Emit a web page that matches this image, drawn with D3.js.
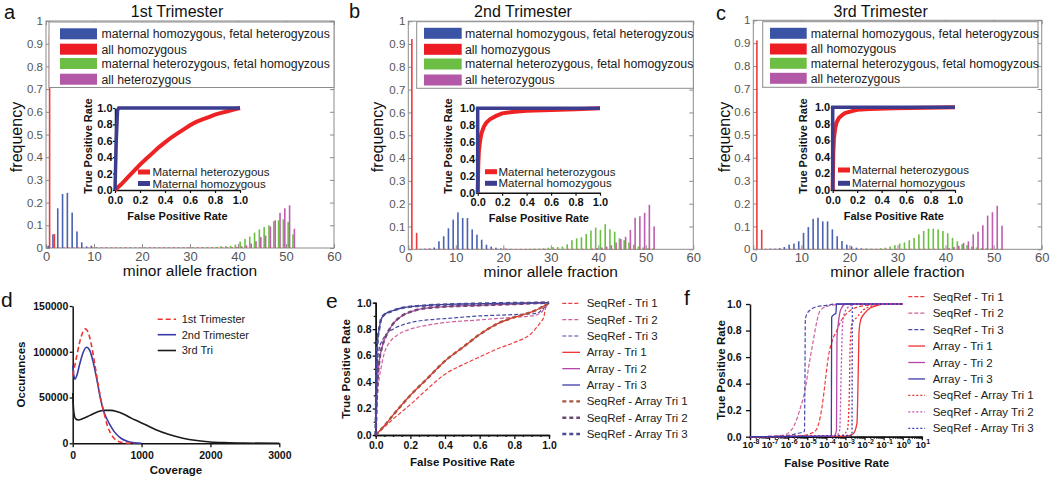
<!DOCTYPE html>
<html><head><meta charset="utf-8">
<script src="https://cdn.jsdelivr.net/npm/d3@7/dist/d3.min.js"></script>
<style>
html,body{margin:0;padding:0;background:#fff;}
svg{display:block;}
svg text{font-family:"Liberation Sans",Arial,Helvetica,sans-serif;}
</style></head><body>
<svg id="fig" width="1050" height="477"></svg>
<script>
// ---------------- DATA ----------------
const alleleBins = [0,1,2,3,4,5,6,7,8,9,10,11,12,13,14,15,16,17,18,19,20,21,22,23,24,25,26,27,28,29,30,31,32,33,34,35,36,37,38,39,40,41,42,43,44,45,46,47,48,49,50,51];
const freqTicks = [0,0.1,0.2,0.3,0.4,0.5,0.6,0.7,0.8,0.9,1];
const fractionTicks = [0,10,20,30,40,50,60];
const rocTicks = [0,0.2,0.4,0.6,0.8,1];
const trimesterTitles = ["1st Trimester","2nd Trimester","3rd Trimester"];
const genotypeLabels = ["maternal homozygous, fetal heterogyzous","all homozygous","maternal heterozygous, fetal homogyzous","all heterozygous"];
const insetLabels = ["Maternal heterozygous","Maternal homozygous"];

// panel a (1st trimester) frequencies per allele-fraction bin
const blueA = [0.010,0.060,0.175,0.238,0.243,0.156,0.073,0.025,0.007,0.010, 0.003,0.002,0.002,0.002,0.002,0.002,0.002,0.002,0.002,0.002, 0.002,0.002,0.002,0.002,0.002,0.002,0.002,0.002,0.002,0.002, 0.002,0.002,0.002,0.002,0.002,0.001,0.001,0.001,0.001,0.001, 0.001,0.001,0.001,0.001,0.001,0.001,0.001,0.001,0.001,0.001, 0.001,0.001];
const redA = [0.938,0.062,0.002,0.002,0.002,0.002,0.002,0.002,0.002,0.002, 0.002,0.002,0.002,0.002,0.002,0.002,0.002,0.002,0.002,0.002, 0.002,0.002,0.002,0.002,0.002,0.002,0.002,0.002,0.002,0.002, 0.002,0.002,0.002,0.002,0.002,0.002,0.002,0.002,0.002,0.002, 0.002,0.002,0.002,0.002,0.002,0.002,0.002,0.002,0.002,0.002, 0.002,0.002];
const greenA = [0,0,0,0,0,0,0,0,0,0, 0.001,0.001,0.001,0.001,0.001,0.001,0.001,0.001,0.001,0.001, 0.001,0.001,0.001,0.001,0.001,0.001,0.001,0.001,0.001,0.001, 0.002,0.002,0.003,0.003,0.003,0.005,0.008,0.008,0.010,0.015, 0.028,0.040,0.050,0.068,0.082,0.092,0.100,0.118,0.122,0.126, 0.115,0.060];
const magentaA = [0,0,0,0,0,0,0,0,0,0, 0,0,0,0,0,0,0,0,0,0, 0.001,0.001,0.001,0.001,0.001,0.001,0.001,0.001,0.001,0.001, 0.001,0.001,0.001,0.001,0.001,0.001,0.002,0.003,0.003,0.005, 0.008,0.012,0.020,0.030,0.048,0.055,0.095,0.122,0.155,0.175, 0.188,0.085];
// panel b (2nd trimester)
const blueB = [0,0,0.002,0.003,0.004,0.008,0.035,0.057,0.092,0.130, 0.162,0.137,0.137,0.087,0.064,0.042,0.020,0.012,0.007,0.004, 0.003,0.002,0.001,0.001,0.001,0.001,0.001,0.001,0.001,0.001, 0.001,0.001,0.001,0.001,0.001,0.001,0.001,0.001,0.001,0.001, 0.001,0.001,0.001,0.001,0.001,0.001,0.001,0.001,0.001,0.001, 0.001,0.001];
const redB = [0.922,0.072,0.002,0.002,0.002,0.002,0.002,0.002,0.002,0.002, 0.002,0.002,0.002,0.002,0.002,0.002,0.002,0.002,0.002,0.002, 0.002,0.002,0.002,0.002,0.002,0.002,0.002,0.002,0.002,0.002, 0.002,0.002,0.002,0.002,0.002,0.002,0.002,0.002,0.002,0.002, 0.002,0.002,0.002,0.002,0.002,0.002,0.002,0.002,0.002,0.002, 0.002,0.002];
const greenB = [0,0,0,0,0,0,0,0,0,0, 0.001,0.001,0.001,0.001,0.001,0.001,0.001,0.001,0.001,0.001, 0.001,0.001,0.001,0.001,0.001,0.002,0.003,0.003,0.005,0.007, 0.010,0.010,0.012,0.022,0.040,0.048,0.053,0.067,0.082,0.095, 0.085,0.110,0.088,0.077,0.048,0.040,0.030,0.020,0.012,0.008, 0.005,0.003];
const magentaB = [0,0,0,0,0,0,0,0,0,0, 0,0,0,0,0,0,0,0,0,0, 0.001,0.001,0.001,0.001,0.001,0.001,0.001,0.001,0.001,0.001, 0.001,0.001,0.001,0.001,0.001,0.001,0.001,0.001,0.003,0.005, 0.008,0.012,0.018,0.030,0.045,0.055,0.085,0.138,0.145,0.160, 0.195,0.100];
// panel c (3rd trimester)
const blueC = [0,0.001,0.002,0.003,0.003,0.005,0.010,0.020,0.025,0.035, 0.072,0.097,0.133,0.138,0.122,0.122,0.087,0.057,0.036,0.020, 0.013,0.007,0.004,0.003,0.002,0.001,0.001,0.001,0.001,0.001, 0.001,0.001,0.001,0.001,0.001,0.001,0.001,0.001,0.001,0.001, 0.001,0.001,0.001,0.001,0.001,0.001,0.001,0.001,0.001,0.001, 0.001,0.001];
const redC = [0.912,0.085,0.002,0.002,0.002,0.002,0.002,0.002,0.002,0.002, 0.002,0.002,0.002,0.002,0.002,0.002,0.002,0.002,0.002,0.002, 0.002,0.002,0.002,0.002,0.002,0.002,0.002,0.002,0.002,0.002, 0.002,0.002,0.002,0.002,0.002,0.002,0.002,0.002,0.002,0.002, 0.002,0.002,0.002,0.002,0.002,0.002,0.002,0.002,0.002,0.002, 0.002,0.002];
const greenC = [0,0,0,0,0,0,0,0,0,0, 0.001,0.001,0.001,0.001,0.001,0.001,0.001,0.001,0.001,0.001, 0.001,0.001,0.001,0.002,0.002,0.003,0.005,0.007,0.012,0.018, 0.025,0.030,0.040,0.050,0.065,0.080,0.090,0.090,0.087,0.080, 0.070,0.050,0.035,0.022,0.018,0.012,0.008,0.005,0.004,0.003, 0.002,0.002];
const magentaC = [0,0,0,0,0,0,0,0,0,0, 0,0,0,0,0,0,0,0,0,0, 0.001,0.001,0.001,0.001,0.001,0.001,0.001,0.001,0.001,0.001, 0.001,0.001,0.001,0.001,0.001,0.001,0.001,0.001,0.001,0.003, 0.005,0.010,0.015,0.028,0.035,0.065,0.077,0.105,0.147,0.162, 0.190,0.103];

// inset ROC curves [FPR, TPR]
const rocHetA = [[0,0],[0.05,0.07],[0.1,0.15],[0.15,0.23],[0.2,0.31],[0.25,0.38],[0.3,0.45],[0.35,0.52],[0.4,0.58],[0.45,0.64],[0.5,0.69],[0.55,0.74],[0.6,0.79],[0.65,0.83],[0.7,0.86],[0.75,0.89],[0.8,0.92],[0.85,0.94],[0.9,0.96],[0.95,0.98],[1,1]];
const rocHomA = [[0,0],[0.01,0.6],[0.02,0.97],[0.03,1],[1,1]];
const rocHetB = [[0,0],[0.005,0.35],[0.01,0.5],[0.02,0.62],[0.03,0.7],[0.05,0.78],[0.07,0.83],[0.1,0.87],[0.15,0.91],[0.2,0.94],[0.3,0.96],[0.4,0.97],[0.6,0.98],[0.8,0.99],[1,1]];
const rocHomB = [[0,0],[0,1],[1,1]];
const rocHetC = [[0,0],[0.005,0.45],[0.01,0.62],[0.02,0.74],[0.03,0.81],[0.05,0.87],[0.08,0.91],[0.1,0.93],[0.15,0.95],[0.2,0.97],[0.3,0.98],[0.5,0.99],[1,1]];
const rocHomC = [[0,0],[0,1],[1,1]];

// panel d: coverage distributions [coverage, occurances]
const coverageTicks = [0,1000,2000,3000];
const occTicks = [0,50000,100000,150000];
const coverageLabels = ["1st Trimester","2nd Trimester","3rd Tri"];
const cov1st = [[0,74000],[50,92000],[100,110000],[150,122000],[180,125000],[220,122000],[270,108000],[320,87000],[370,64000],[420,44000],[450,35000],[500,20000],[550,11000],[600,5500],[700,1200],[800,200],[900,0]];
const cov2nd = [[0,85000],[30,70000],[60,74000],[100,86000],[150,99000],[200,105000],[250,101000],[300,88000],[350,70000],[400,50000],[450,35000],[500,26000],[550,19000],[600,13000],[700,5500],[800,2000],[900,500],[1000,0]];
const cov3rd = [[0,55000],[15,35000],[40,27000],[80,25500],[150,27000],[250,30500],[350,34000],[450,36000],[550,36000],[650,34500],[750,31500],[850,27500],[950,24000],[1050,20500],[1200,15000],[1400,9500],[1600,5500],[1800,3000],[2000,1500],[2200,700],[2500,200],[3000,0]];

// panel e / f: ROC comparison
const rateTicks = [0,0.2,0.4,0.6,0.8,1];
const rocSeriesLabels = ["SeqRef - Tri 1","SeqRef - Tri 2","SeqRef - Tri 3","Array - Tri 1","Array - Tri 2","Array - Tri 3","SeqRef - Array Tri 1","SeqRef - Array Tri 2","SeqRef - Array Tri 3"];
const eSeqRef1 = [[0,0],[0.05,0.06],[0.1,0.12],[0.2,0.23],[0.3,0.35],[0.4,0.46],[0.5,0.53],[0.6,0.59],[0.7,0.65],[0.8,0.7],[0.9,0.77],[0.95,0.85],[0.97,0.89],[0.98,0.96],[1,1]];
const eSeqRef2 = [[0,0],[0.01,0.3],[0.03,0.5],[0.05,0.62],[0.08,0.7],[0.12,0.75],[0.2,0.8],[0.3,0.83],[0.4,0.85],[0.6,0.87],[0.8,0.89],[0.9,0.9],[0.95,0.92],[0.97,0.95],[1,1]];
const eSeqRef3 = [[0,0],[0.01,0.55],[0.02,0.65],[0.04,0.72],[0.06,0.76],[0.1,0.8],[0.15,0.83],[0.2,0.85],[0.3,0.87],[0.4,0.88],[0.6,0.9],[0.8,0.91],[0.93,0.92],[0.97,0.96],[1,1]];
const eArray1 = [[0,0],[0.05,0.07],[0.1,0.15],[0.2,0.3],[0.3,0.43],[0.4,0.56],[0.5,0.66],[0.6,0.76],[0.7,0.84],[0.8,0.89],[0.9,0.93],[0.95,0.96],[1,1]];
const eArray2 = [[0,0],[0.01,0.4],[0.02,0.55],[0.04,0.68],[0.06,0.75],[0.08,0.8],[0.1,0.84],[0.15,0.9],[0.2,0.93],[0.25,0.95],[0.3,0.96],[0.4,0.97],[0.6,0.98],[0.8,0.99],[1,1]];
const eArray3 = [[0,0],[0.005,0.5],[0.01,0.7],[0.02,0.8],[0.03,0.87],[0.05,0.91],[0.08,0.93],[0.1,0.94],[0.15,0.96],[0.2,0.97],[0.3,0.98],[0.5,0.99],[1,1]];
const eSeqArr1 = [[0,0],[0.05,0.07],[0.1,0.15],[0.2,0.3],[0.3,0.43],[0.4,0.56],[0.5,0.66],[0.6,0.76],[0.7,0.84],[0.8,0.89],[0.9,0.93],[0.95,0.96],[1,1]];
const eSeqArr2 = [[0,0],[0.01,0.4],[0.02,0.55],[0.04,0.68],[0.06,0.75],[0.08,0.8],[0.1,0.84],[0.15,0.9],[0.2,0.93],[0.25,0.95],[0.3,0.96],[0.4,0.97],[0.6,0.98],[0.8,0.99],[1,1]];
const eSeqArr3 = [[0,0],[0.005,0.5],[0.01,0.7],[0.02,0.8],[0.03,0.87],[0.05,0.91],[0.08,0.93],[0.1,0.94],[0.15,0.96],[0.2,0.97],[0.3,0.98],[0.5,0.99],[1,1]];

const fprExponents = [-8,-7,-6,-5,-4,-3,-2,-1,0,1];
const fSeqRef1 = [[1e-8,0],[1e-6,0.002],[6.3e-6,0.01],[2.5e-5,0.04],[4e-5,0.1],[6.3e-5,0.25],[8.5e-5,0.4],[1.26e-4,0.6],[2e-4,0.72],[3.5e-4,0.8],[6.3e-4,0.88],[1.74e-3,0.95],[5e-3,0.98],[0.032,0.995],[0.1,1],[1,1]];
const fSeqRef2 = [[1e-8,0],[1e-7,0.002],[5e-7,0.01],[1.26e-6,0.04],[2e-6,0.08],[4e-6,0.2],[7.6e-6,0.35],[1.26e-5,0.55],[2.1e-5,0.73],[3.2e-5,0.87],[4.7e-5,0.95],[1e-4,0.98],[3.2e-4,0.995],[1e-3,1],[1,1]];
const fSeqRef3 = [[1e-8,0],[1e-7,0.002],[1e-6,0.01],[3.2e-6,0.025],[7.1e-6,0.04],[7.6e-6,0.5],[7.9e-6,0.88],[1e-5,0.93],[1.6e-5,0.96],[3.2e-5,0.98],[1e-4,0.99],[3.2e-4,1],[1,1]];
const fArray1 = [[1e-8,0],[1e-3,0.005],[2.5e-3,0.02],[4e-3,0.1],[4.7e-3,0.5],[5.2e-3,0.8],[6.3e-3,0.88],[1e-2,0.93],[2e-2,0.97],[5e-2,0.99],[0.1,1],[1,1]];
const fArray2 = [[1e-8,0],[2.5e-4,0.005],[3.4e-4,0.05],[3.6e-4,0.75],[4.2e-4,0.85],[5e-4,0.93],[6.3e-4,0.97],[1e-3,1],[1,1]];
const fArray3 = [[1e-8,0],[1.82e-4,0.005],[1.9e-4,0.9],[2.5e-4,0.92],[3.16e-4,0.93],[3.4e-4,1],[1,1]];
const fSeqArr1 = [[1e-8,0],[6.3e-4,0.01],[1.26e-3,0.05],[1.58e-3,0.3],[1.78e-3,0.7],[2.2e-3,0.85],[4e-3,0.9],[7.9e-3,0.95],[3.2e-2,0.99],[0.1,1],[1,1]];
const fSeqArr2 = [[1e-8,0],[3.2e-4,0.005],[5e-4,0.05],[6e-4,0.5],[7.1e-4,0.85],[1e-3,0.95],[2e-3,0.99],[3.2e-3,1],[1,1]];
const fSeqArr3 = [[1e-8,0],[2.2e-3,0.01],[2.3e-3,0.99],[2.5e-3,1],[1,1]];

// ---------------- DRAWING ----------------
const svg = d3.select("#fig");

function label(g, x, y, s, size, opts={}) {
  const t = g.append("text").attr("x", x).attr("y", y).text(s)
    .style("font-size", size + "px").attr("fill", opts.fill || "#111");
  if (opts.anchor) t.attr("text-anchor", opts.anchor);
  if (opts.bold) t.style("font-weight", "bold");
  if (opts.dy) t.attr("dy", opts.dy);
  return t;
}
function rotLabel(g, x, y, s, size, bold) {
  return g.append("text").attr("transform", `translate(${x},${y}) rotate(-90)`)
    .attr("text-anchor", "middle").text(s).style("font-size", size + "px")
    .style("font-weight", bold ? "bold" : "normal").attr("fill", "#111");
}

const histColors = {blue:"#4a62b0", red:"#ef3b3b", green:"#6cbe45", magenta:"#bd5fae"};
const swatchColors = ["#3a53a4","#ed1c24","#6cbe45","#b358a6"];

function topPanel(c, d) {
  const g = svg.append("g");
  const x = d3.scaleLinear().domain([0, 60]).range([c.x0, c.x1]);
  const y = d3.scaleLinear().domain([0, 1]).range([c.y0, c.y1]);
  const gray = "#8c8c8c";
  const styleAx = (s, fs) => {
    s.select(".domain").remove();
    s.selectAll(".tick line").attr("stroke", gray);
    s.selectAll("text").attr("fill", "#555").style("font-size", fs + "px");
  };
  // frame
  g.append("rect").attr("x", c.x0).attr("y", c.y1).attr("width", c.x1 - c.x0)
    .attr("height", c.y0 - c.y1).attr("fill", "none").attr("stroke", gray).attr("stroke-width", 1);
  g.append("g").attr("transform", `translate(${c.x0},0)`)
    .call(d3.axisLeft(y).tickValues(freqTicks).tickSize(-4).tickPadding(3).tickFormat(d3.format("")))
    .call(s => styleAx(s, 11.5));
  g.append("g").attr("transform", `translate(${c.x1},0)`)
    .call(d3.axisRight(y).tickValues(freqTicks).tickSize(-4).tickFormat(""))
    .call(s => styleAx(s, 11));
  g.append("g").attr("transform", `translate(0,${c.y0})`)
    .call(d3.axisBottom(x).tickValues(fractionTicks).tickSize(-4).tickPadding(3.5).tickFormat(d3.format("d")))
    .call(s => styleAx(s, 13));
  g.append("g").attr("transform", `translate(0,${c.y1})`)
    .call(d3.axisTop(x).tickValues(fractionTicks).tickSize(-4).tickFormat(""))
    .call(s => styleAx(s, 11));

  // bars
  const series = [
    {v: d.blue, col: histColors.blue, off: 0.45},
    {v: d.green, col: histColors.green, off: 0.45},
    {v: d.magenta, col: histColors.magenta, off: 0.75},
    {v: d.red, col: histColors.red, off: 0.75}];
  series.forEach(s => {
    g.append("g").selectAll("rect")
      .data(alleleBins.map((b, i) => ({b, v: s.v[i]})))
      .join("rect")
      .attr("x", e => x(e.b + s.off) - 0.8).attr("width", 1.6)
      .attr("y", e => y(e.v)).attr("height", e => y(0) - y(e.v))
      .attr("fill", s.col);
  });

  // texts
  label(g, c.titleX, 17, c.title, 16, {anchor: "middle"});
  label(g, c.letterX, c.letterY, c.letter, 20);
  label(g, (c.x0 + c.x1) / 2, c.xlabY, "minor allele fraction", 15.5, {anchor: "middle"});
  rotLabel(g, c.ylabX, 137, "frequency", 16, false);

  // legend
  g.append("rect").attr("x", c.lx0).attr("y", c.ly0).attr("width", c.lx1 - c.lx0)
    .attr("height", c.ly1 - c.ly0).attr("fill", "#fff").attr("stroke", gray);
  genotypeLabels.forEach((t, i) => {
    g.append("rect").attr("x", c.sw0).attr("y", c.rows[i] - 5.5).attr("width", c.sw1 - c.sw0)
      .attr("height", 11).attr("fill", swatchColors[i]);
    label(g, c.tx, c.rows[i], t, 12.3, {dy: "0.35em", fill: "#222"});
  });

  // inset
  const ix = d3.scaleLinear().domain([0, 1]).range([c.ix0, c.ix1]);
  const iy = d3.scaleLinear().domain([0, 1]).range([c.iy0, c.iy1]);
  const styleIn = s => {
    s.select(".domain").attr("stroke", "#111").attr("stroke-width", 1.5);
    s.selectAll(".tick line").attr("stroke", "#111").attr("stroke-width", 1.2);
    s.selectAll("text").attr("fill", "#111").style("font-size", "11px").style("font-weight", "bold");
  };
  g.append("g").attr("transform", `translate(${c.ix0},0)`)
    .call(d3.axisLeft(iy).tickValues(rocTicks).tickSize(2).tickPadding(0.5).tickFormat(d3.format(".1f")).tickSizeOuter(0))
    .call(styleIn);
  g.append("g").attr("transform", `translate(0,${c.iy0})`)
    .call(d3.axisBottom(ix).tickValues(rocTicks).tickSize(3).tickPadding(2.7).tickFormat(d3.format(".1f")).tickSizeOuter(0))
    .call(styleIn);
  const ln = d3.line().x(p => ix(p[0])).y(p => iy(p[1]));
  g.append("path").attr("d", ln(d.het)).attr("fill", "none").attr("stroke", "#ee2222").attr("stroke-width", 4);
  g.append("path").attr("d", ln(d.hom)).attr("fill", "none").attr("stroke", "#3d3d8f").attr("stroke-width", 3.5);
  rotLabel(g, c.iylabX, 146, "True Positive Rate", 11, true);
  label(g, (c.ix0 + c.ix1) / 2, c.ixlabY, "False Positive Rate", 11, {anchor: "middle", bold: true});
  const insetCols = ["#ee2222", "#3d3d8f"];
  insetLabels.forEach((t, i) => {
    g.append("line").attr("x1", c.isw0).attr("x2", c.isw1).attr("y1", c.irows[i]).attr("y2", c.irows[i])
      .attr("stroke", insetCols[i]).attr("stroke-width", 5);
    label(g, c.itx, c.irows[i], t, 11.5, {dy: "0.35em", fill: "#222"});
  });
}

topPanel({x0:46, x1:334, y0:248, y1:21, lx0:49, ly0:22, lx1:334, ly1:87.5, sw0:60, sw1:97, tx:101.5,
  rows:[33.8,49.2,63.5,79.2], title:trimesterTitles[0], titleX:177, letter:"a", letterX:4, letterY:19,
  xlabY:276, ylabX:21.6, ix0:115, ix1:240, iy0:190, iy1:108, isw0:138, isw1:150, itx:152.5, irows:[172,183.5],
  iylabX:91.7, ixlabY:220},
  {blue:blueA, red:redA, green:greenA, magenta:magentaA, het:rocHetA, hom:rocHomA});
topPanel({x0:408.3, x1:693.3, y0:249.3, y1:21.2, lx0:416.7, ly0:21.7, lx1:693.3, ly1:88.3, sw0:424, sw1:461.7, tx:465,
  rows:[33.3,49.3,64,80], title:trimesterTitles[1], titleX:523, letter:"b", letterX:349, letterY:18,
  xlabY:277, ylabX:383.3, ix0:477.7, ix1:600, iy0:192.7, iy1:108.3, isw0:485, isw1:497, itx:498.5, irows:[171.7,183.3],
  iylabX:451.7, ixlabY:221.7},
  {blue:blueB, red:redB, green:greenB, magenta:magentaB, het:rocHetB, hom:rocHomB});
topPanel({x0:753.3, x1:1041.7, y0:249.3, y1:20.3, lx0:762.7, ly0:21.7, lx1:1038, ly1:87.3, sw0:770, sw1:806.7, tx:810.7,
  rows:[33.3,49,63.3,78.3], title:trimesterTitles[2], titleX:880.7, letter:"c", letterX:716, letterY:20,
  xlabY:277, ylabX:730, ix0:832.7, ix1:955, iy0:190, iy1:107.3, isw0:838, isw1:850, itx:852, irows:[170,183.3],
  iylabX:806.7, ixlabY:220},
  {blue:blueC, red:redC, green:greenC, magenta:magentaC, het:rocHetC, hom:rocHomC});

// ---- bottom axes helper
function styleBlack(s, fs) {
  s.select(".domain").attr("stroke", "#111").attr("stroke-width", 1.5);
  s.selectAll(".tick line").attr("stroke", "#111").attr("stroke-width", 1.3);
  s.selectAll("text").attr("fill", "#111").style("font-size", fs + "px").style("font-weight", "bold");
}

// ---- panel d
(function () {
  const g = svg.append("g");
  const x = d3.scaleLinear().domain([0, 3000]).range([72.7, 279.3]);
  const y = d3.scaleLinear().domain([0, 150000]).range([443.3, 306]);
  g.append("g").attr("transform", `translate(0,${y(0)})`)
    .call(d3.axisBottom(x).tickValues(coverageTicks).tickSize(4).tickPadding(4.5).tickSizeOuter(0).tickFormat(d3.format("d")))
    .call(s => styleBlack(s, 10.5));
  g.append("g").attr("transform", `translate(${x(0)},0)`)
    .call(d3.axisLeft(y).tickValues(occTicks).tickSize(3).tickPadding(1.4).tickSizeOuter(0).tickFormat(d3.format("d")))
    .call(s => styleBlack(s, 10.5));
  const ln = d3.line().x(p => x(p[0])).y(p => y(p[1])).curve(d3.curveMonotoneX);
  const specs = [
    {d: cov3rd, col: "#1a1a1a", dash: null},
    {d: cov2nd, col: "#3a3aa6", dash: null},
    {d: cov1st, col: "#ee3333", dash: "5,3"}];
  specs.forEach(s => {
    g.append("path").attr("d", ln(s.d)).attr("fill", "none").attr("stroke", s.col)
      .attr("stroke-width", 1.6).attr("stroke-dasharray", s.dash);
  });
  const legCols = [["#ee3333", "5,3"], ["#3a3aa6", null], ["#1a1a1a", null]];
  const rows = [319.3, 334.7, 350.5];
  coverageLabels.forEach((t, i) => {
    g.append("line").attr("x1", 157.7).attr("x2", 176).attr("y1", rows[i]).attr("y2", rows[i])
      .attr("stroke", legCols[i][0]).attr("stroke-width", 1.6).attr("stroke-dasharray", legCols[i][1]);
    label(g, 181.7, rows[i], t, 11, {dy: "0.35em", fill: "#222"});
  });
  label(g, 176, 474, "Coverage", 11.5, {anchor: "middle", bold: true});
  rotLabel(g, 25, 374.5, "Occurances", 11.5, true);
  label(g, 1, 306.7, "d", 21);
})();

// ---- e/f styles
const rocStyles = [
  {col: "#f03c3c", dash: "4,2", w: 1.2},
  {col: "#d0609a", dash: "4,2", w: 1.2},
  {col: "#4a4aa8", dash: "4,2", w: 1.2},
  {col: "#f03030", dash: null, w: 1.3},
  {col: "#b448a8", dash: null, w: 1.3},
  {col: "#3b3ba8", dash: null, w: 1.3}];
const eComboStyles = [
  {col: "#a8553c", dash: "4,3", w: 2.4},
  {col: "#6e4a70", dash: "4,3", w: 2.4},
  {col: "#4a4a90", dash: "4,3", w: 2.4}];
const fComboStyles = [
  {col: "#f03030", dash: "2,2", w: 1.3},
  {col: "#c050b0", dash: "2,2", w: 1.3},
  {col: "#3a3ab8", dash: "2,2", w: 1.3}];

// ---- panel e
(function () {
  const g = svg.append("g");
  const x = d3.scaleLinear().domain([0, 1]).range([375.7, 549]);
  const y = d3.scaleLinear().domain([0, 1]).range([435, 302.7]);
  const minor = [0.05,0.1,0.15,0.25,0.3,0.35,0.45,0.5,0.55,0.65,0.7,0.75,0.85,0.9,0.95];
  g.append("g").attr("transform", `translate(0,${y(0)})`)
    .call(d3.axisBottom(x).tickValues(minor).tickSize(2).tickFormat(""))
    .call(s => styleBlack(s, 10.5));
  g.append("g").attr("transform", `translate(${x(0)},0)`)
    .call(d3.axisLeft(y).tickValues([0.1,0.3,0.5,0.7,0.9]).tickSize(2).tickFormat(""))
    .call(s => styleBlack(s, 10.5));
  g.append("g").attr("transform", `translate(0,${y(0)})`)
    .call(d3.axisBottom(x).tickValues(rateTicks).tickSize(4).tickPadding(3).tickSizeOuter(0).tickFormat(d3.format(".1f")))
    .call(s => styleBlack(s, 10.5));
  g.append("g").attr("transform", `translate(${x(0)},0)`)
    .call(d3.axisLeft(y).tickValues(rateTicks).tickSize(3).tickPadding(1).tickSizeOuter(0).tickFormat(d3.format(".1f")))
    .call(s => styleBlack(s, 10.5));
  const ln = d3.line().x(p => x(p[0])).y(p => y(p[1])).curve(d3.curveMonotoneX);
  const data = [eSeqRef1, eSeqRef2, eSeqRef3, eArray1, eArray2, eArray3, eSeqArr1, eSeqArr2, eSeqArr3];
  const styles = rocStyles.concat(eComboStyles);
  data.forEach((d, i) => {
    g.append("path").attr("d", ln(d)).attr("fill", "none").attr("stroke", styles[i].col)
      .attr("stroke-width", styles[i].w).attr("stroke-dasharray", styles[i].dash);
  });
  rocSeriesLabels.forEach((t, i) => {
    const ry = 303.3 + i * 16.34;
    g.append("line").attr("x1", 562.3).attr("x2", 580).attr("y1", ry).attr("y2", ry)
      .attr("stroke", styles[i].col).attr("stroke-width", styles[i].w).attr("stroke-dasharray", styles[i].dash);
    label(g, 586.7, ry, t, 11.5, {dy: "0.35em", fill: "#222"});
  });
  label(g, 462.4, 465.7, "False Positive Rate", 11.5, {anchor: "middle", bold: true});
  rotLabel(g, 350, 369, "True Positive Rate", 11.5, true);
  label(g, 326, 308, "e", 21);
})();

// ---- panel f
(function () {
  const g = svg.append("g");
  const x = d3.scaleLog().domain([1e-8, 10]).range([750, 921.8]);
  const y = d3.scaleLinear().domain([0, 1]).range([436.7, 304]);
  const minor = [];
  fprExponents.slice(0, -1).forEach(e => { for (let k = 2; k <= 9; k++) minor.push(k * Math.pow(10, e)); });
  g.append("g").attr("transform", `translate(0,${y(0)})`)
    .call(d3.axisBottom(x).tickValues(minor).tickSize(2).tickFormat(""))
    .call(s => styleBlack(s, 10));
  const majors = fprExponents.map(e => Math.pow(10, e));
  g.append("g").attr("transform", `translate(0,${y(0)})`)
    .call(d3.axisBottom(x).tickValues(majors).tickSize(3.5).tickSizeOuter(0).tickFormat(""))
    .call(s => styleBlack(s, 10));
  fprExponents.forEach(e => {
    const t = g.append("text").attr("x", x(Math.pow(10, e)) + 1).attr("y", 448.3)
      .attr("text-anchor", "middle").style("font-size", "9.5px").style("font-weight", "bold").attr("fill", "#111");
    t.append("tspan").text("10");
    t.append("tspan").attr("dy", "-4").style("font-size", "7px").text(String(e));
  });
  g.append("g").attr("transform", `translate(750,0)`)
    .call(d3.axisLeft(y).tickValues(rateTicks).tickSize(4).tickPadding(4.5).tickSizeOuter(0).tickFormat(d3.format(".1f")))
    .call(s => styleBlack(s, 10.5));
  const ln = d3.line().x(p => x(p[0])).y(p => y(p[1])).curve(d3.curveMonotoneX);
  const data = [fSeqRef1, fSeqRef2, fSeqRef3, fArray1, fArray2, fArray3, fSeqArr1, fSeqArr2, fSeqArr3];
  const styles = rocStyles.concat(fComboStyles);
  data.forEach((d, i) => {
    g.append("path").attr("d", ln(d)).attr("fill", "none").attr("stroke", styles[i].col)
      .attr("stroke-width", styles[i].w).attr("stroke-dasharray", styles[i].dash);
  });
  rocSeriesLabels.forEach((t, i) => {
    const ry = 296.7 + i * 16.45;
    g.append("line").attr("x1", 908.3).attr("x2", 925).attr("y1", ry).attr("y2", ry)
      .attr("stroke", styles[i].col).attr("stroke-width", styles[i].w).attr("stroke-dasharray", styles[i].dash);
    label(g, 932.7, ry, t, 11.5, {dy: "0.35em", fill: "#222"});
  });
  label(g, 836.7, 466.5, "False Positive Rate", 11.5, {anchor: "middle", bold: true});
  rotLabel(g, 725, 370, "True Positive Rate", 11.5, true);
  label(g, 684, 305, "f", 21);
})();
</script>
</body></html>
